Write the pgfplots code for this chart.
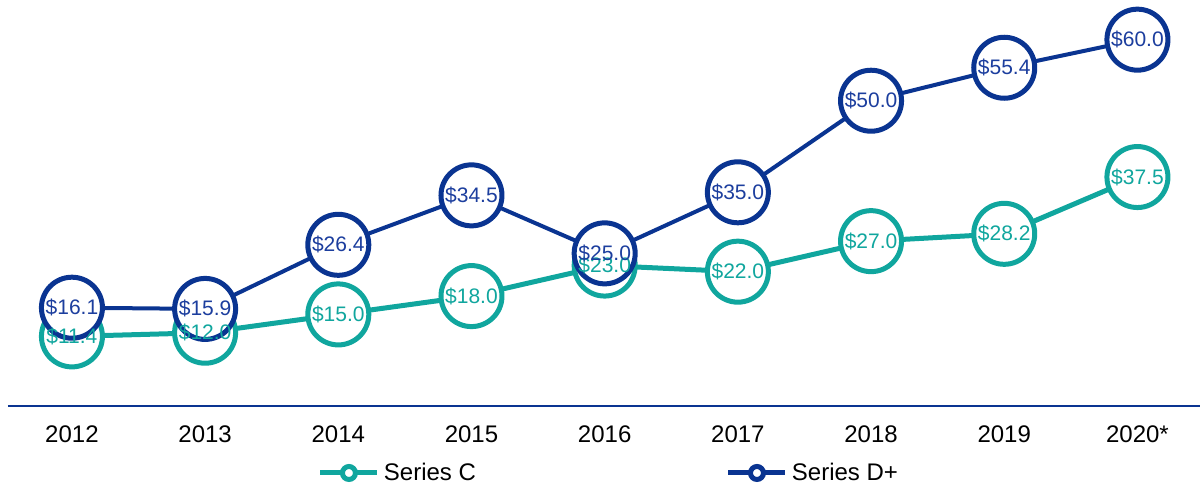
\documentclass[border=0pt]{standalone}
\usepackage{fontspec}
\setmainfont{Liberation Sans}
\usepackage{pgfplots}
\pgfplotsset{compat=1.18}
\definecolor{tealc}{RGB}{16,166,158}
\definecolor{navyc}{RGB}{10,52,145}
\definecolor{navyt}{RGB}{28,62,158}
\begin{document}
\begin{tikzpicture}
\useasboundingbox (0,0) rectangle (601pt,245pt);
\begin{axis}[
  at={(4pt,42pt)}, anchor=south west,
  scale only axis, width=596pt, height=203pt,
  xmin=-0.48, xmax=8.47, ymin=0, ymax=66.5,
  clip=false,
  axis x line=bottom, axis y line=none,
  x axis line style={-, draw=navyc, line width=1pt},
  xtick={0,1,2,3,4,5,6,7,8},
  xticklabels={2012,2013,2014,2015,2016,2017,2018,2019,2020*},
  major tick length=0pt,
  xticklabel style={font=\fontsize{12}{14}\selectfont, text=black, anchor=base, yshift=-18.5pt},
  ytick=\empty,
  /pgf/number format/assume math mode=true,
  legend columns=2,
  legend style={draw=none, fill=none, at={(0.505,-0.165)}, anchor=center,
    font=\fontsize{12}{14}\selectfont,
    /tikz/every even column/.append style={column sep=123pt}},
]
\addplot[tealc, line width=2.5pt, mark=*, mark size=15.25pt,
  mark options={fill=white, draw=tealc, line width=2.5pt},
  legend image code/.code={\draw[tealc, line width=2.5pt] (0pt,0pt) -- (28.5pt,0pt);
    \draw[tealc, line width=2.5pt, fill=white] (14.25pt,0pt) circle (3.25pt);}]
  coordinates {(0,11.4) (1,12.0) (2,15.0) (3,18.0) (4,23.0) (5,22.0) (6,27.0) (7,28.2) (8,37.5)};
\addlegendentry{Series C}
\addplot[navyc, line width=2pt, mark=*, mark size=15.25pt,
  mark options={fill=white, draw=navyc, line width=2.5pt},
  legend image code/.code={\draw[navyc, line width=2.5pt] (0pt,0pt) -- (28.5pt,0pt);
    \draw[navyc, line width=2.5pt, fill=white] (14.25pt,0pt) circle (3.25pt);}]
  coordinates {(0,16.1) (1,15.9) (2,26.4) (3,34.5) (4,25.0) (5,35.0) (6,50.0) (7,55.4) (8,60.0)};
\addlegendentry{Series D+}
\addplot[draw=none, mark=none, forget plot, point meta=y,
  nodes near coords={\$\pgfmathprintnumber[fixed,fixed zerofill,precision=1]{\pgfplotspointmeta}},
  nodes near coords align={center},
  every node near coord/.append style={anchor=center, inner sep=0pt, text=tealc, font=\fontsize{10.5}{12}\selectfont}]
  coordinates {(0,11.4) (1,12.0) (2,15.0) (3,18.0) (4,23.0) (5,22.0) (6,27.0) (7,28.2) (8,37.5)};
\addplot[draw=none, mark=none, forget plot, point meta=y,
  nodes near coords={\$\pgfmathprintnumber[fixed,fixed zerofill,precision=1]{\pgfplotspointmeta}},
  nodes near coords align={center},
  every node near coord/.append style={anchor=center, inner sep=0pt, text=navyt, font=\fontsize{10.5}{12}\selectfont}]
  coordinates {(0,16.1) (1,15.9) (2,26.4) (3,34.5) (4,25.0) (5,35.0) (6,50.0) (7,55.4) (8,60.0)};
\end{axis}
\end{tikzpicture}
\end{document}
